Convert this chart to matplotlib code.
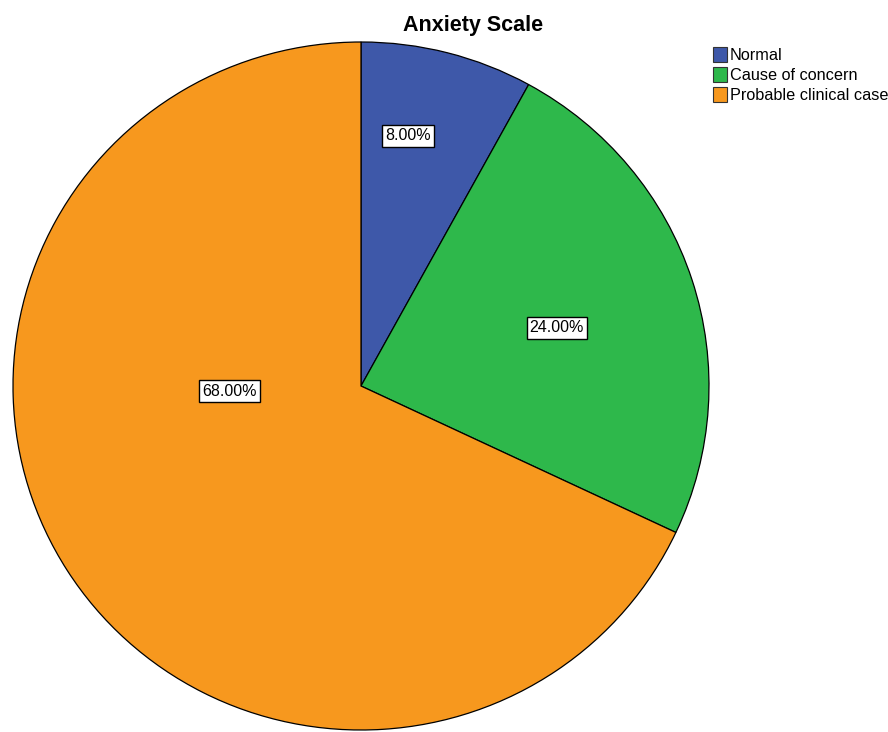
import matplotlib.pyplot as plt
from matplotlib.patches import Patch

plt.rcParams['font.family'] = ['Liberation Sans', 'DejaVu Sans']

# anxiety scale categories and their share of respondents
categories = ['Normal', 'Cause of concern', 'Probable clinical case']
percents = [8.0, 24.0, 68.0]
colors = ['#3e58a9', '#2eb84b', '#f7981e']

# where each percentage box sits inside its wedge (pie units)
label_pos = [(0.135, 0.727), (0.563, 0.169), (-0.379, -0.015)]

fig = plt.figure(figsize=(8.88, 7.32), dpi=100)
W, H = 888, 732
ax = fig.add_axes([13 / W, 2 / H, 696 / W, 688 / H])

wedges, texts, autotexts = ax.pie(
    percents, colors=colors, startangle=90, counterclock=False,
    autopct='%.2f%%', radius=1.0,
    wedgeprops=dict(edgecolor='black', linewidth=0.9),
    textprops=dict(fontsize=11.5, color='black'))
ax.set_aspect('auto')
ax.set_xlim(-1, 1)
ax.set_ylim(-1, 1)
ax.axis('off')

for t, pos in zip(autotexts, label_pos):
    t.set_position(pos)
    t.set_ha('center')
    t.set_va('center')
    t.set_bbox(dict(boxstyle='square,pad=0.2', facecolor='white',
                    edgecolor='black', linewidth=1.0))

fig.text(473 / W, 1 - 26 / H, 'Anxiety Scale', ha='center', va='center',
         fontsize=15.5, fontweight='bold')

handles = [Patch(facecolor=c, edgecolor='#333333', linewidth=0.8) for c in colors]
fig.legend(handles, categories, loc='upper left',
           bbox_to_anchor=(702 / W, 1 - 36 / H), frameon=False,
           fontsize=11.7, handlelength=0.85, handleheight=1.0,
           handletextpad=0.15, labelspacing=0.25, borderpad=0.2)

fig.savefig('out.png', dpi=100)
